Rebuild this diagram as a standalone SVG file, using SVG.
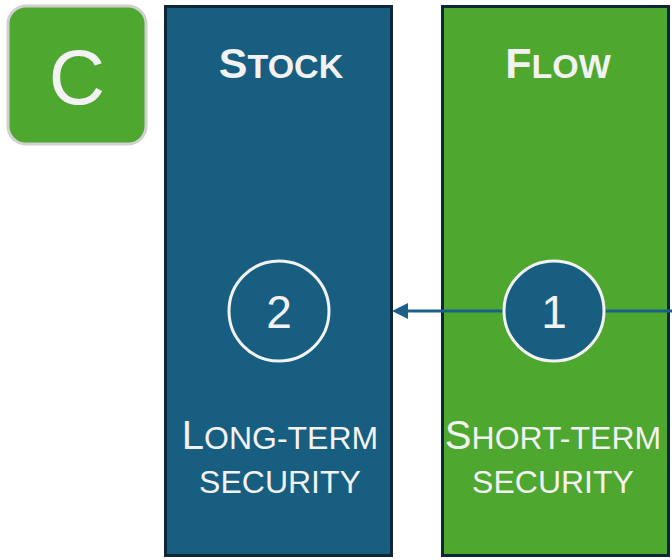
<svg xmlns="http://www.w3.org/2000/svg" width="672" height="560" viewBox="0 0 672 560">
<style>
.box{stroke:#0c2737;stroke-width:3}
.t{font-family:"Liberation Sans",Arial,sans-serif;fill:#f2f2f2;text-anchor:middle}
.h{font-weight:bold}
.num{fill:#175e80;stroke:#f2f2f2;stroke-width:3}
</style>
<defs>
<marker id="ah" markerWidth="16" markerHeight="16" refX="0" refY="8" orient="auto" markerUnits="userSpaceOnUse" viewBox="0 0 16 16">
<path d="M0,0 L16,8 L0,16 Z" fill="#1a6088"/>
</marker>
</defs>
<g id="badge">
<rect x="8" y="6" width="138" height="138" rx="18" fill="#4ea72e" stroke="#d0d0d0" stroke-width="3"/>
<text class="t" x="77" y="104" font-size="78">C</text>
</g>
<g id="stock">
<rect class="box" x="165.5" y="6.5" width="226" height="549" fill="#175e80"/>
<text class="t h" x="281" y="78" font-size="43">S<tspan font-size="34">TOCK</tspan></text>
<text class="t" x="280" y="449" font-size="40">L<tspan font-size="32">ONG-TERM</tspan></text>
<text class="t" x="280" y="493" font-size="32">SECURITY</text>
</g>
<g id="flow">
<rect class="box" x="442.5" y="6.5" width="226" height="549" fill="#4ea72e"/>
<text class="t h" x="558" y="78" font-size="43">F<tspan font-size="34">LOW</tspan></text>
<text class="t" x="553" y="449" font-size="40">S<tspan font-size="32">HORT-TERM</tspan></text>
<text class="t" x="553" y="493" font-size="32">SECURITY</text>
</g>
<g id="connectors">
<line x1="672" y1="311" x2="408" y2="311" stroke="#1a6088" stroke-width="3" marker-end="url(#ah)"/>
</g>
<g id="n2">
<circle class="num" cx="279" cy="311" r="50"/>
<text class="t" x="279" y="328" font-size="46">2</text>
</g>
<g id="n1">
<circle class="num" cx="554" cy="311" r="50"/>
<text class="t" x="554" y="328" font-size="46">1</text>
</g>
</svg>
